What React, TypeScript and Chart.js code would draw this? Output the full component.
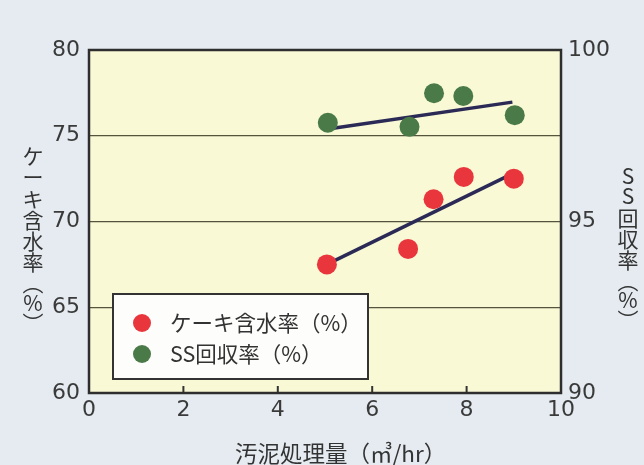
import React, { useEffect, useRef } from 'react';
import { Chart, registerables } from 'chart.js';

Chart.register(...registerables);

// ---- data ----
const cakeFlow = [5.04, 6.76, 7.3, 7.94, 9.0];
const cakeMoisture = [67.5, 68.4, 71.3, 72.6, 72.5];
const ssFlow = [5.06, 6.79, 7.31, 7.93, 9.02];
const ssRecovery = [97.88, 97.76, 98.74, 98.66, 98.1];
const cakeTrendX = [5.04, 8.92];
const cakeTrendY = [67.5, 72.72];
const ssTrendX = [5.17, 8.97];
const ssTrendY = [97.72, 98.48];
const xTickMarks = [2, 4, 6, 8];
const seriesNames = ['ケーキ含水率（%）', 'SS回収率（%）'];
const leftTitleChars = ['ケ', 'ー', 'キ', '含', '水', '率', '︵', '%', '︶'];
const rightTitleChars = ['S', 'S', '回', '収', '率', '︵', '%', '︶'];
const xTitle = '汚泥処理量（㎥/hr）';

const RED = '#e9363d';
const GREEN = '#4b7a49';
const LINE = '#2b2a56';
const JP = '"Noto Sans CJK JP", "Noto Sans", sans-serif';
const NUM = '"DejaVu Sans", sans-serif';

const decorPlugin = {
  id: 'decor',
  beforeDraw(chart: any) {
    const { ctx, chartArea: a, width, height } = chart;
    ctx.save();
    ctx.fillStyle = '#e5ebf1';
    ctx.fillRect(0, 0, width, height);
    ctx.fillStyle = '#f9f9d6';
    ctx.fillRect(a.left, a.top, a.right - a.left, a.bottom - a.top);
    ctx.restore();
  },
  afterDraw(chart: any) {
    const { ctx, chartArea: a } = chart;
    const xs = chart.scales.x;
    ctx.save();
    // inward tick marks
    ctx.strokeStyle = '#333';
    ctx.lineWidth = 2;
    xTickMarks.forEach((v) => {
      const px = xs.getPixelForValue(v);
      ctx.beginPath();
      ctx.moveTo(px, a.bottom);
      ctx.lineTo(px, a.bottom - 7);
      ctx.stroke();
    });
    // border
    ctx.lineWidth = 2.5;
    ctx.strokeStyle = '#2e2e2e';
    ctx.strokeRect(a.left, a.top, a.right - a.left, a.bottom - a.top);

    // legend box
    ctx.fillStyle = '#fdfdfb';
    ctx.fillRect(113, 294, 255, 85);
    ctx.lineWidth = 2;
    ctx.strokeStyle = '#333';
    ctx.strokeRect(113, 294, 255, 85);
    const colors = [RED, GREEN];
    const ys = [323, 354];
    ctx.font = `21.5px ${JP}`;
    ctx.textBaseline = 'middle';
    ctx.textAlign = 'left';
    seriesNames.forEach((name, i) => {
      ctx.fillStyle = colors[i];
      ctx.beginPath();
      ctx.arc(142, ys[i], 9, 0, Math.PI * 2);
      ctx.fill();
      ctx.fillStyle = '#333';
      ctx.fillText(name, 170, ys[i]);
    });

    // axis titles
    ctx.fillStyle = '#333';
    ctx.textAlign = 'center';
    ctx.font = `21px ${JP}`;
    const leftY = [156, 177, 199, 220, 241, 262, 283, 303, 323];
    leftTitleChars.forEach((c, i) => ctx.fillText(c, 33, leftY[i]));
    const rightY = [176, 196, 218, 239, 260, 281, 300, 320];
    rightTitleChars.forEach((c, i) => ctx.fillText(c, 628, rightY[i]));
    ctx.textAlign = 'left';
    ctx.font = `22.5px ${JP}`;
    ctx.fillText(xTitle, 235, 453);
    ctx.restore();
  },
};

export default function App() {
  const ref = useRef<HTMLCanvasElement | null>(null);
  useEffect(() => {
    document.body.style.margin = '0';
    const canvas = ref.current!;
    const chart = new Chart(canvas, {
      type: 'scatter',
      data: {
        datasets: [
          {
            label: seriesNames[0],
            data: cakeFlow.map((x, i) => ({ x, y: cakeMoisture[i] })),
            yAxisID: 'y',
            backgroundColor: RED,
            borderWidth: 0,
            pointRadius: 10,
            order: 1,
          },
          {
            label: seriesNames[1],
            data: ssFlow.map((x, i) => ({ x, y: ssRecovery[i] })),
            yAxisID: 'y1',
            backgroundColor: GREEN,
            borderWidth: 0,
            pointRadius: 10,
            order: 1,
          },
          {
            type: 'line',
            label: 'cakeTrend',
            data: cakeTrendX.map((x, i) => ({ x, y: cakeTrendY[i] })),
            yAxisID: 'y',
            borderColor: LINE,
            borderWidth: 3.5,
            pointRadius: 0,
            fill: false,
            order: 2,
          },
          {
            type: 'line',
            label: 'ssTrend',
            data: ssTrendX.map((x, i) => ({ x, y: ssTrendY[i] })),
            yAxisID: 'y1',
            borderColor: LINE,
            borderWidth: 3.5,
            pointRadius: 0,
            fill: false,
            order: 2,
          },
        ] as any,
      },
      options: {
        responsive: false,
        animation: false,
        layout: { padding: { top: 50, left: 0, right: 0, bottom: 0 } },
        plugins: { legend: { display: false }, tooltip: { enabled: false } },
        scales: {
          x: {
            type: 'linear',
            min: 0,
            max: 10,
            ticks: { stepSize: 2, color: '#3a3a3a', font: { family: NUM, size: 22 }, padding: 4 },
            grid: { display: false, drawTicks: false },
            border: { display: false },
            afterFit: (s: any) => { s.height = 72; },
          },
          y: {
            type: 'linear',
            position: 'left',
            min: 60,
            max: 80,
            ticks: { stepSize: 5, color: '#3a3a3a', font: { family: NUM, size: 22 }, padding: 9 },
            grid: { color: '#55553e', lineWidth: 1.2, drawTicks: false },
            border: { display: false },
            afterFit: (s: any) => { s.width = 89; },
          },
          y1: {
            type: 'linear',
            position: 'right',
            min: 90,
            max: 100,
            ticks: { stepSize: 5, color: '#3a3a3a', font: { family: NUM, size: 22 }, padding: 7 },
            grid: { display: false, drawTicks: false },
            border: { display: false },
            afterFit: (s: any) => { s.width = 83; },
          },
        },
      } as any,
      plugins: [decorPlugin],
    });
    return () => chart.destroy();
  }, []);
  return <canvas ref={ref} width={644} height={465} style={{ display: 'block', width: 644, height: 465 }} />;
}
